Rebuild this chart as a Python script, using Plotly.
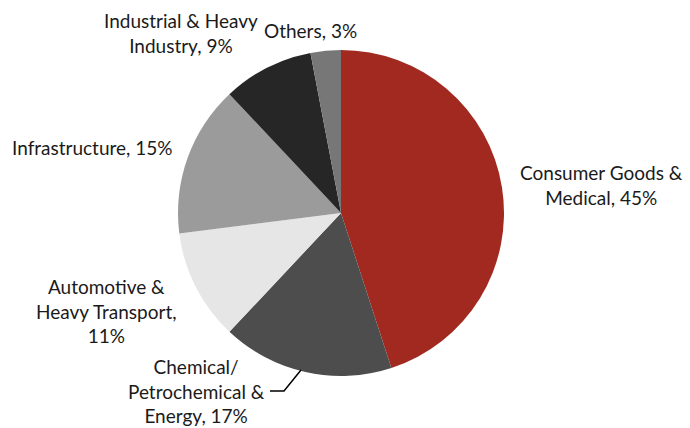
import plotly.graph_objects as go

# Market share by end-use segment
segments = [
    "Consumer Goods &<br>Medical",
    "Chemical/<br>Petrochemical &<br>Energy",
    "Automotive &<br>Heavy Transport,<br>",
    "Infrastructure",
    "Industrial & Heavy<br>Industry",
    "Others",
]
shares = [45, 17, 11, 15, 9, 3]
colors = ["#A2291F", "#4D4D4D", "#E6E6E6", "#9B9B9B", "#262626", "#777777"]

W, H = 690, 428
cx, cy, r = 341, 213, 163

# label anchor points (pixel coordinates of the text block centre)
label_pos = [
    (601, 185),
    (196, 391),
    (106, 311),
    (92, 147),
    (181, 33),
    (310, 31),
]

fig = go.Figure(
    go.Pie(
        labels=[s.replace("<br>", " ") for s in segments],
        values=shares,
        marker=dict(colors=colors, line=dict(width=0)),
        sort=False,
        direction="clockwise",
        rotation=0,
        textinfo="none",
        hoverinfo="label+percent",
        domain=dict(x=[(cx - r) / W, (cx + r) / W], y=[1 - (cy + r) / H, 1 - (cy - r) / H]),
        showlegend=False,
    )
)

annotations = []
for seg, val, (px, py) in zip(segments, shares, label_pos):
    if seg.endswith("<br>"):
        text = f"{seg}{val}%"
    else:
        text = f"{seg}, {val}%"
    annotations.append(
        dict(
            x=px / W, y=1 - py / H, xref="paper", yref="paper",
            text=text, showarrow=False, align="center",
            xanchor="center", yanchor="middle",
            font=dict(family="Lato", size=19, color="#1a1a1a"),
        )
    )

# leader line for the Chemical segment label
pts = [(270, 391), (284, 391), (301, 370)]
path = "M " + " L ".join(f"{x / W} {1 - y / H}" for x, y in pts)

fig.update_layout(
    width=W, height=H,
    margin=dict(l=0, r=0, t=0, b=0),
    paper_bgcolor="white", plot_bgcolor="white",
    annotations=annotations,
    shapes=[dict(type="path", path=path, xref="paper", yref="paper",
                 line=dict(color="black", width=1.5))],
)

fig.write_html("out.html")
